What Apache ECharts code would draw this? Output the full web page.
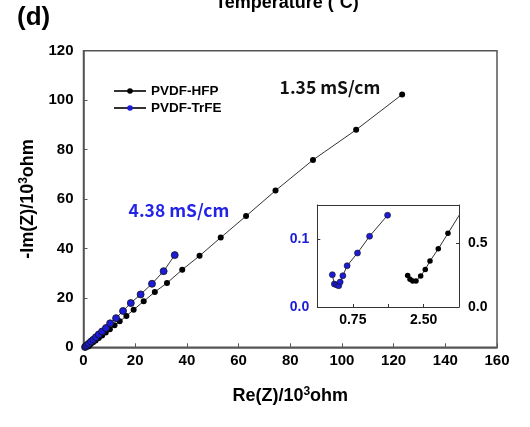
<!DOCTYPE html>
<html><head><meta charset="utf-8">
<script src="https://cdn.jsdelivr.net/npm/echarts@6/dist/echarts.min.js"></script>
<style>html,body{margin:0;padding:0;background:#fff}#c{width:530px;height:427px}</style>
</head><body><div id="c"></div>
<script>
// Main Nyquist data (Re, -Im) in 10^3 ohm
const hfpRe = [1.8,2.2,2.8,3.7,4.7,5.9,7.2,8.6,10.2,12.0,14.0,16.6,19.4,23.3,27.6,32.3,38.2,44.9,53.1,62.9,74.3,88.8,105.5,123.3];
const hfpIm = [0.3,0.7,1.3,2.0,2.8,3.8,4.8,6.0,7.3,8.9,10.5,12.7,15.2,18.6,22.4,26.0,31.4,37.0,44.4,53.1,63.4,75.8,88.0,102.3];
const trfeRe = [0.6,0.9,1.4,2.1,2.9,3.8,4.8,5.9,7.2,8.7,10.3,12.6,15.3,18.3,22.1,26.5,31.0,35.3];
const trfeIm = [0.1,0.4,0.9,1.5,2.3,3.1,4.1,5.2,6.4,7.8,9.7,11.8,14.7,17.9,21.4,25.7,30.8,37.3];
// Inset data (high-frequency region)
const insetTrfeRe = [0.606,0.620,0.637,0.651,0.661,0.680,0.710,0.783,0.868,0.995];
const insetTrfeIm = [0.0475,0.0338,0.0324,0.0313,0.0368,0.046,0.0607,0.0794,0.104,0.135];
const insetHfpRe = [2.274,2.307,2.345,2.392,2.458,2.523,2.590,2.707,2.844,3.02];
const insetHfpIm = [0.2465,0.218,0.2045,0.2045,0.243,0.295,0.360,0.456,0.578,0.735];
const seriesNames = ['PVDF-HFP','PVDF-TrFE'];
const annotations = ['1.35 mS/cm','4.38 mS/cm'];

const zip = (a,b)=>a.map((v,i)=>[v,b[i]]);
const F = 'Liberation Sans, Arial, sans-serif';
const axisCol = '#555';
const lbl = {color:'#000', fontFamily:F, fontWeight:'bold', fontSize:15};
const lblS = {color:'#000', fontFamily:F, fontWeight:'bold', fontSize:14};
const blue = '#1c1cd8';
const nameStyle = {fontFamily:F, fontWeight:'bold', fontSize:18, color:'#000',
  rich:{s:{fontFamily:F, fontWeight:'bold', fontSize:12, color:'#000', padding:[0,0,10,0]}}};

const chart = echarts.init(document.getElementById('c'));
chart.setOption({
  animation:false,
  backgroundColor:'#fff',
  grid:[
    {left:83.5, right:33, top:50.7, bottom:79.7, show:true, borderColor:axisCol, borderWidth:1.5, backgroundColor:'transparent'},
    {left:317.3, width:71, top:205, height:102, show:true, borderWidth:0, backgroundColor:'#fff'},
    {left:388.3, width:70.7, top:205, height:102, show:true, borderWidth:0, backgroundColor:'#fff'}
  ],
  legend:{
    orient:'vertical', left:108, top:79, itemWidth:32, itemHeight:7, itemGap:3,
    textStyle:{fontFamily:F, fontWeight:'bold', fontSize:13.5, color:'#000'},
    data:[
      {name:seriesNames[0]},
      {name:seriesNames[1], itemStyle:{borderWidth:0}}
    ]
  },
  xAxis:[
    {gridIndex:0, type:'value', min:0, max:160, interval:20,
     axisLine:{lineStyle:{color:axisCol, width:1.5}}, axisTick:{inside:true, length:4, lineStyle:{color:axisCol}},
     splitLine:{show:false}, axisLabel:Object.assign({margin:6}, lbl),
     name:'Re(Z)/10{s|3}ohm', nameLocation:'middle', nameGap:38, nameTextStyle:nameStyle},
    {gridIndex:1, type:'value', min:0.5, max:1.0, interval:0.25,
     axisLine:{lineStyle:{color:'#333', width:1}}, axisTick:{inside:true, length:3, lineStyle:{color:'#333'}},
     splitLine:{show:false},
     axisLabel:Object.assign({margin:6, formatter:v=>Math.abs(v-0.75)<1e-6?'0.75':''}, lblS)},
    {gridIndex:2, type:'value', min:2.0, max:3.0, interval:0.5,
     axisLine:{lineStyle:{color:'#333', width:1}}, axisTick:{inside:true, length:3, lineStyle:{color:'#333'}},
     splitLine:{show:false},
     axisLabel:Object.assign({margin:6, formatter:v=>Math.abs(v-2.5)<1e-6?'2.50':''}, lblS)},
    {gridIndex:1, type:'value', position:'top', min:0.5, max:1.0,
     axisLine:{onZero:false, lineStyle:{color:'#333', width:1}}, axisTick:{show:false}, axisLabel:{show:false}, splitLine:{show:false}},
    {gridIndex:2, type:'value', position:'top', min:2.0, max:3.0,
     axisLine:{onZero:false, lineStyle:{color:'#333', width:1}}, axisTick:{show:false}, axisLabel:{show:false}, splitLine:{show:false}}
  ],
  yAxis:[
    {gridIndex:0, type:'value', min:0, max:120, interval:20,
     axisLine:{lineStyle:{color:axisCol, width:1.5}}, axisTick:{inside:true, length:4, lineStyle:{color:axisCol}},
     splitLine:{show:false}, axisLabel:Object.assign({margin:10}, lbl),
     name:'-Im(Z)/10{s|3}ohm', nameLocation:'middle', nameGap:44, nameRotate:90, nameTextStyle:nameStyle},
    {gridIndex:1, type:'value', min:0, max:0.15, interval:0.1,
     axisLine:{onZero:false, lineStyle:{color:'#333', width:1}}, axisTick:{inside:true, length:3, lineStyle:{color:'#333'}},
     splitLine:{show:false},
     axisLabel:Object.assign({}, lblS, {color:blue, margin:8, showMaxLabel:false, formatter:v=>v.toFixed(1)})},
    {gridIndex:2, type:'value', position:'right', min:0, max:0.8, interval:0.5,
     axisLine:{onZero:false, lineStyle:{color:'#333', width:1}}, axisTick:{inside:true, length:3, lineStyle:{color:'#333'}},
     splitLine:{show:false},
     axisLabel:Object.assign({}, lblS, {margin:9, showMaxLabel:false, formatter:v=>v.toFixed(1)})}
  ],
  series:[
    {name:seriesNames[0], type:'line', xAxisIndex:0, yAxisIndex:0, data:zip(hfpRe,hfpIm),
     symbol:'circle', symbolSize:6, itemStyle:{color:'#000'}, lineStyle:{color:'#333', width:1}, z:3},
    {name:seriesNames[1], type:'line', xAxisIndex:0, yAxisIndex:0, data:zip(trfeRe,trfeIm),
     symbol:'circle', symbolSize:7, itemStyle:{color:blue, borderColor:'#111', borderWidth:0.8}, lineStyle:{color:'#333', width:1}, z:4},
    {name:'inset-trfe', type:'line', xAxisIndex:1, yAxisIndex:1, data:zip(insetTrfeRe,insetTrfeIm),
     symbol:'circle', symbolSize:6, itemStyle:{color:blue, borderColor:'#111', borderWidth:0.6}, lineStyle:{color:'#333', width:1}, clip:true},
    {name:'inset-hfp', type:'line', xAxisIndex:2, yAxisIndex:2, data:zip(insetHfpRe,insetHfpIm),
     symbol:'circle', symbolSize:5.5, itemStyle:{color:'#000'}, lineStyle:{color:'#333', width:1}, clip:true}
  ],
  graphic:[
    {type:'text', left:17, top:5, style:{text:'(d)', fontFamily:F, fontWeight:'bold', fontSize:26, fill:'#000'}},
    {type:'text', x:287, y:-6, style:{text:'Temperature (\u02DAC)', fontFamily:F, fontWeight:'bold', fontSize:18, fill:'#000', align:'center'}},
    {type:'text', x:330, y:79, style:{text:annotations[0], fontFamily:'Noto Sans CJK KR, Noto Sans', fontWeight:'bold', fontSize:17.5, fill:'#111', align:'center'}},
    {type:'text', x:179, y:202, style:{text:annotations[1], fontFamily:'Noto Sans CJK KR, Noto Sans', fontWeight:'bold', fontSize:17.5, fill:'#2424e6', align:'center'}}
  ]
});
</script></body></html>
